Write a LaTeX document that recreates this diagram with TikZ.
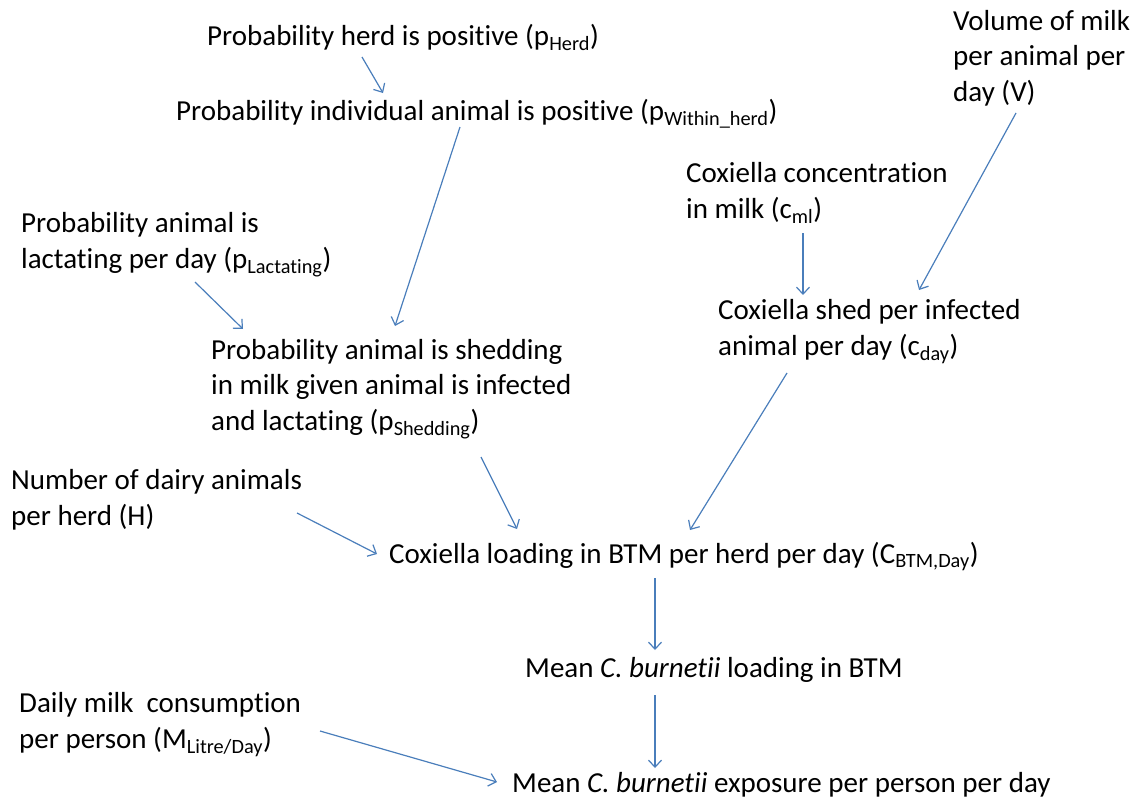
\documentclass[tikz,border=0pt]{standalone}
\usepackage{fontspec}
\setmainfont{Carlito}[Ligatures=NoCommon]
\usetikzlibrary{calc,arrows.meta}
\definecolor{linkblue}{RGB}{74,126,187}
\tikzset{txt/.style={anchor=base west,inner sep=0pt,align=left,font=\fontsize{29}{35.5}\selectfont},
  link/.style={draw=linkblue,line width=1.2pt,->}}

\begin{document}
\begin{tikzpicture}[x=1pt,y=-1pt,>={Straight Barb[length=7pt,width=13pt]}]
\useasboundingbox (0,0) rectangle (1143,798);
\node[txt] (herd) at (207,45) {Probability herd is positive (p\textsubscript{Herd})};
\node[txt] (indiv) at (176,120) {Probability individual animal is positive (p\textsubscript{Within\_herd})};
\node[txt] (lact) at (21,268) {Probability animal is\\lactating per day (p\textsubscript{Lactating})};
\node[txt] (shed) at (211,430) {Probability animal is shedding\\in milk given animal is infected\\and lactating (p\textsubscript{Shedding})};
\node[txt] (vol) at (953,101) {Volume of milk\\per animal per\\day (V)};
\node[txt] (conc) at (686,218) {Coxiella concentration\\in milk (c\textsubscript{ml})};
\node[txt] (cshed) at (718,355) {Coxiella shed per infected\\animal per day (c\textsubscript{day})};
\node[txt] (num) at (11,525) {Number of dairy animals\\per herd (H)};
\node[txt] (load) at (389,563) {Coxiella loading in BTM per herd per day (C\textsubscript{BTM,Day})};
\node[txt] (mean) at (525,677) {Mean \textit{C. burnetii} loading in BTM};
\node[txt] (daily) at (19,748) {Daily milk~ consumption\\per person (M\textsubscript{Litre/Day})};
\node[txt] (expo) at (512,792) {Mean \textit{C. burnetii} exposure per person per day};

\draw[link] ($(herd.base west)+(155,12)$) -- ($(indiv.base west)+(207,-27)$);
\draw[link] ($(indiv.base west)+(284,7)$) -- ($(shed.base west)+(184,-104)$);
\draw[link] ($(lact.base west)+(174,14)$) -- ($(shed.base west)+(32,-101)$);
\draw[link] ($(vol.base west)+(63,12)$) -- ($(cshed.base west)+(201,-65)$);
\draw[link] ($(conc.base west)+(117,15)$) -- ($(cshed.base west)+(85,-60)$);
\draw[link] ($(shed.base west)+(270,27)$) -- ($(load.base west)+(128,-34)$);
\draw[link] ($(cshed.base west)+(69,18)$) -- ($(load.base west)+(301,-33)$);
\draw[link] ($(num.base west)+(286,-12)$) -- ($(load.base west)+(-12,-9)$);
\draw[link] ($(load.base west)+(266,15)$) -- ($(mean.base west)+(130,-27)$);
\draw[link] ($(mean.base west)+(130,18)$) -- ($(expo.base west)+(143,-24)$);
\draw[link] ($(daily.base west)+(301,-17)$) -- ($(expo.base west)+(-15,-10)$);
\end{tikzpicture}
\end{document}
